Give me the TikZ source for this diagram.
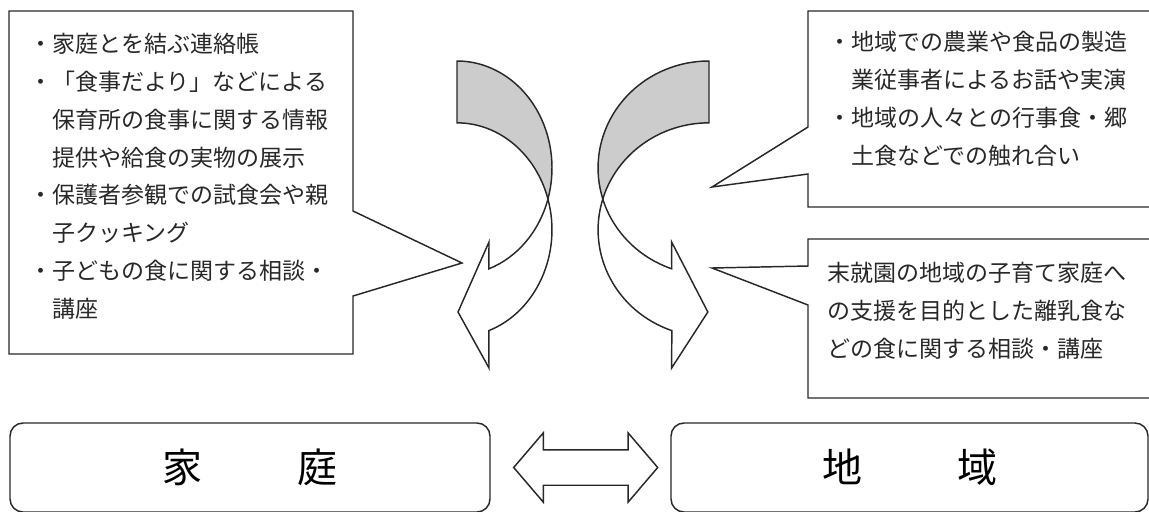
\documentclass[tikz,border=0pt]{standalone}
\usepackage{fontspec}
\newfontfamily\jpfont{Noto Sans CJK JP}
\usetikzlibrary{shapes.arrows, positioning, calc}
\definecolor{ribbongray}{RGB}{204, 204, 204}
\definecolor{inkgray}{RGB}{40, 40, 40}

\tikzset{
  outline/.style={draw=inkgray, line width=1.1pt},
  note/.style={inner sep=0pt, align=left, anchor=base west, text=inkgray,
    font=\jpfont\fontsize{17.25pt}{28.3pt}\selectfont},
  place/.style={outline, rounded corners=9.75pt, minimum height=66.75pt, inner sep=0pt,
    font=\jpfont\fontsize{30pt}{30pt}\selectfont},
  twoway/.style={outline, fill=white, double arrow, anchor=west, inner xsep=0pt, inner ysep=12.75pt,
    text height=0pt, text depth=0pt, minimum height=108pt,
    double arrow head extend=12.75pt, double arrow tip angle=99}
}

% bent ribbon arrow: #1 = tail x, #2 = x scale (negative mirrors it)
\newcommand{\ribbonarrow}[2]{%
  \begin{scope}[shift={(#1,0)}, xscale=#2]
    \filldraw[outline, fill=ribbongray] (0,-61)
      arc[start angle=90, end angle=-16.8, x radius=95, y radius=107]
      arc[start angle=16.8, end angle=90, x radius=95, y radius=107] -- cycle;
    \filldraw[outline, fill=white] (90.9,-198.9)
      arc[start angle=16.8, end angle=-70.4, x radius=95, y radius=107]
      -- (32,-368) -- (1,-312) -- (32,-242) -- (31.9,-268.8)
      arc[start angle=-70.4, end angle=-16.8, x radius=95, y radius=107] -- cycle;
  \end{scope}}

\begin{document}
\begin{tikzpicture}[x=0.75pt, y=0.75pt]
  \useasboundingbox (0,0) rectangle (1149,-511);

  % callouts
  \draw[outline] (9,-11) -- (353,-11) -- (353,-211) -- (462,-263) -- (353,-296)
    -- (353,-354) -- (9,-354) -- cycle;
  \draw[outline] (1149,-11) -- (808,-11) -- (808,-127) -- (712,-187) -- (808,-174)
    -- (808,-207) -- (1149,-207);
  \draw[outline] (1149,-239) -- (808,-239) -- (808,-266) -- (712,-268) -- (808,-305)
    -- (808,-398) -- (1149,-398);

  % base anchor sits on the last line
  \node[note] (homenote) at (29,-317) {・家庭とを結ぶ連絡帳\\
    ・「食事だより」などによる\\
    　保育所の食事に関する情報\\
    　提供や給食の実物の展示\\
    ・保護者参観での試食会や親\\
    　子クッキング\\
    ・子どもの食に関する相談・\\
    　講座};
  \node[note] (areanote) at (828,-164) {・地域での農業や食品の製造\\
    　業従事者によるお話や実演\\
    ・地域の人々との行事食・郷\\
    　土食などでの触れ合い};
  \node[note] (carenote) at (827,-357) {末就園の地域の子育て家庭へ\\
    の支援を目的とした離乳食な\\
    どの食に関する相談・講座};

  % bent arrows
  \ribbonarrow{457}{1}
  \ribbonarrow{709}{-1.168}

  % home and community
  \node[place, minimum width=360pt] (home) at (250,-467.5) {家\hspace{71.25pt}庭};
  \node[place, minimum width=357.75pt] (area) at (909.5,-467.5) {地\hspace{71.25pt}域};
  \node[twoway, right=16.5pt of home] (link) {};
\end{tikzpicture}
\end{document}
